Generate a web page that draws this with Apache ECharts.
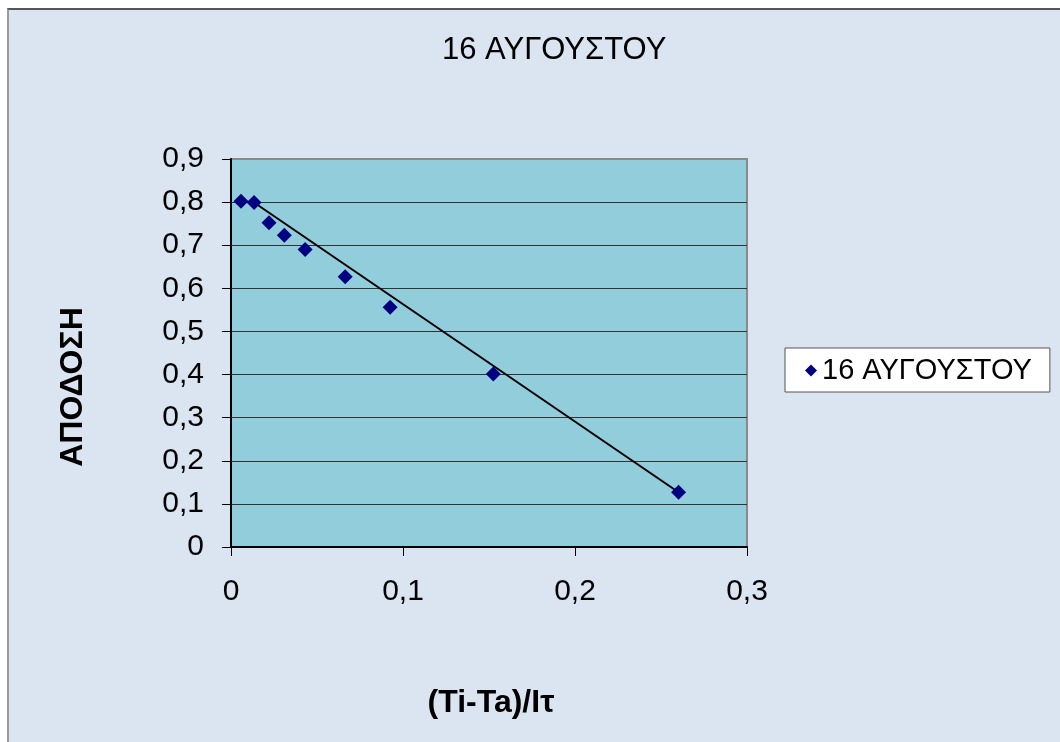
<!DOCTYPE html>
<html>
<head>
<meta charset="utf-8">
<script src="https://cdn.jsdelivr.net/npm/echarts@6/dist/echarts.min.js"></script>
<style>
  body { margin: 0; background: #fff; }
  #frame {
    position: absolute; left: 7px; top: 8px; width: 1080px; height: 760px;
    background: #dbe5f1;
    border-top: 2px solid #555;
    border-left: 2px solid #9a9a9a;
  }
  #chart { position: absolute; left: 0; top: 0; width: 1060px; height: 742px; }
</style>
</head>
<body>
<div id="frame"></div>
<div id="chart"></div>
<script>
// values
const seriesName = '16 ΑΥΓΟΥΣΤΟΥ';
const xName = '(Ti-Ta)/Iτ';
const yName = 'ΑΠΟΔΟΣΗ';
const xValues = [0.0058, 0.0134, 0.0221, 0.0310, 0.0431, 0.0664, 0.0925, 0.1525, 0.2602];
const yValues = [0.802, 0.799, 0.752, 0.723, 0.690, 0.627, 0.556, 0.401, 0.127];
const xTickLabels = ['0', '0,1', '0,2', '0,3'];
const yTickLabels = ['0', '0,1', '0,2', '0,3', '0,4', '0,5', '0,6', '0,7', '0,8', '0,9'];

const points = xValues.map((x, i) => [x, yValues[i]]);
// the straight line in the reference runs from the 2nd point to the last one
const trend = [points[1], points[points.length - 1]];

const chart = echarts.init(document.getElementById('chart'));
const font = 'Liberation Sans, Arial, sans-serif';

const option = {
    animation: false,
    textStyle: { fontFamily: font },
    title: {
        text: seriesName,
        left: 437,
        top: 30,
        textStyle: { fontSize: 31, fontWeight: 'normal', color: '#000', fontFamily: font }
    },
    legend: {
        data: [seriesName],
        left: 785,
        top: 348,
        orient: 'vertical',
        icon: 'diamond',
        itemWidth: 12,
        itemHeight: 12,
        padding: [8, 18, 7, 20],
        backgroundColor: '#fff',
        borderColor: '#555',
        borderWidth: 1,
        borderRadius: 0,
        textStyle: { fontSize: 29, color: '#000', fontFamily: font }
    },
    grid: {
        left: 231,
        top: 159,
        width: 516,
        height: 388,
        show: true,
        backgroundColor: '#92cddc',
        borderColor: '#8a8a8a',
        borderWidth: 2
    },
    graphic: [
        {
            type: 'text',
            x: 73,
            y: 387,
            rotation: Math.PI / 2,
            style: {
                text: yName,
                font: 'bold 32px ' + font,
                fill: '#000',
                textAlign: 'center',
                textVerticalAlign: 'middle'
            }
        },
        {
            type: 'text',
            x: 491,
            y: 703,
            style: {
                text: xName,
                font: 'bold 32px ' + font,
                fill: '#000',
                textAlign: 'center',
                textVerticalAlign: 'middle'
            }
        }
    ],
    xAxis: {
        type: 'value',
        min: 0,
        max: 0.3,
        interval: 0.1,
        axisLine: { onZero: false, lineStyle: { color: '#000', width: 2 } },
        axisTick: { show: true, length: 9, lineStyle: { color: '#000', width: 1 } },
        axisLabel: {
            margin: 30,
            fontSize: 30,
            color: '#000',
            fontFamily: font,
            formatter: (v, i) => xTickLabels[i]
        },
        splitLine: { show: false }
    },
    yAxis: {
        type: 'value',
        min: 0,
        max: 0.9,
        interval: 0.1,
        axisLine: { show: true, onZero: false, lineStyle: { color: '#000', width: 2 } },
        axisTick: { show: true, length: 9, lineStyle: { color: '#000', width: 1 } },
        axisLabel: {
            margin: 27,
            fontSize: 30,
            color: '#000',
            fontFamily: font,
            formatter: (v, i) => yTickLabels[i]
        },
        splitLine: {
            show: true,
            showMinLine: false,
            showMaxLine: false,
            lineStyle: { color: '#333', width: 1 }
        }
    },
    series: [
        {
            name: 'trend',
            type: 'line',
            data: trend,
            symbol: 'none',
            lineStyle: { color: '#000', width: 2 },
            z: 2
        },
        {
            name: seriesName,
            type: 'scatter',
            data: points,
            symbol: 'diamond',
            symbolSize: 15,
            itemStyle: { color: '#000080', opacity: 1 },
            z: 3
        }
    ]
};
chart.setOption(option);
</script>
</body>
</html>
